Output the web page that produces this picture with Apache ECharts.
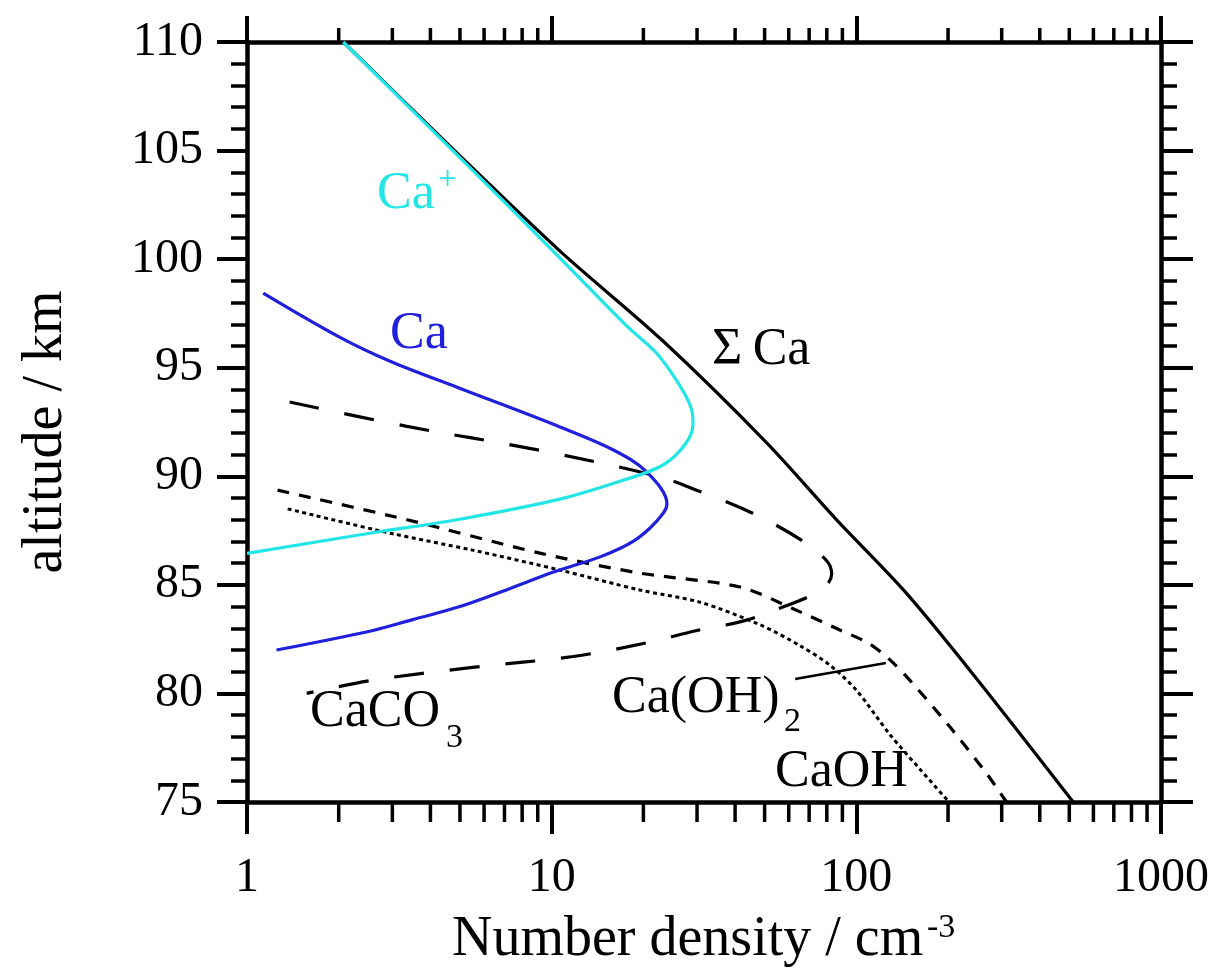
<!DOCTYPE html>
<html>
<head>
<meta charset="utf-8">
<title>Ca species profiles</title>
<script src="https://cdn.jsdelivr.net/npm/echarts@6/dist/echarts.min.js"></script>
<style>
    html, body { margin: 0; padding: 0; background: #fff; }
    #main { width: 1218px; height: 971px; }
</style>
</head>
<body>
<div id="main"></div>
<script>
// [number density (cm-3), altitude (km)]
var sumCa = [[2.07, 110], [4.8, 105], [10.65, 100.37], [23.2, 96.23], [50.9, 91.53], [85.7, 88.03], [144, 84.71], [243, 80.84], [515, 75]];
var caIon = [[2.07, 110], [4.74, 105], [10.65, 100.05], [17.7, 96.9], [22, 95.7], [26, 94.3], [28.6, 93.2], [29.1, 92.4], [27.5, 91.5], [23.2, 90.52], [17, 89.8], [10.65, 88.95], [4.89, 88.0], [2.59, 87.4], [1.0, 86.45]];
var caAtom = [[1.13, 98.44], [2.02, 96.4], [2.95, 95.3], [4.89, 94.1], [10.65, 92.27], [16, 91.2], [20.5, 90.2], [23.9, 88.72], [22, 87.9], [18.5, 87.0], [14.5, 86.3], [10.2, 85.6], [7.2, 84.8], [5.0, 84.0], [3.5, 83.4], [2.59, 82.9], [1.25, 82.0]];
var caco3 = [[1.38, 93.42], [3.35, 92.3], [9.1, 91.2], [22.2, 90.0], [30.7, 89.3], [45.7, 88.3], [66, 87.06], [80, 86.1], [83, 85.5], [80, 85.0], [72, 84.55], [58, 84.0], [42.4, 83.33], [30, 82.9], [20, 82.3], [11.75, 81.7], [5.5, 81.2], [2.59, 80.61], [1.57, 80.0]];
var caoh2 = [[1.26, 89.36], [3.35, 88.0], [9.16, 86.46], [19.5, 85.54], [41.5, 84.9], [62, 83.9], [88.3, 82.92], [110, 82.3], [130, 81.5], [150, 80.6], [203, 78.45], [268, 76.3], [311, 75.0]];
var caoh = [[1.36, 88.5], [2.95, 87.38], [5.5, 86.6], [10.65, 85.68], [19.5, 84.76], [30.7, 84.2], [48.3, 83.16], [65.3, 82.2], [81.9, 81.3], [100, 80.15], [129, 78.1], [162, 76.5], [200, 75.05]];
var caoh2Pointer = [[63, 80.66], [125, 81.4]];

var xMinorTicks = [2, 3, 4, 5, 6, 7, 8, 9, 20, 30, 40, 50, 60, 70, 80, 90, 200, 300, 400, 500, 600, 700, 800, 900];
var yMin = 75, yMax = 110;

var FONT = '"Liberation Serif", "Times New Roman", serif';

function curve(name, data, color, type, width, smooth) {
    return {
        name: name,
        type: 'line',
        xAxisIndex: 0,
        yAxisIndex: 0,
        data: data,
        showSymbol: false,
        symbol: 'none',
        smooth: smooth,
        silent: true,
        animation: false,
        lineStyle: { color: color, width: width, type: type, cap: 'butt' }
    };
}

// minor ticks of the log axis, placed through the axis scale
function minorTicks(atY, len) {
    return {
        type: 'custom',
        xAxisIndex: 0,
        yAxisIndex: 0,
        silent: true,
        clip: false,
        animation: false,
        data: xMinorTicks.map(function(v) { return [v, atY]; }),
        renderItem: function(params, api) {
            var p = api.coord([api.value(0), api.value(1)]);
            return {
                type: 'line',
                shape: { x1: p[0], y1: p[1], x2: p[0], y2: p[1] + len },
                style: { stroke: '#000', lineWidth: 3.5 }
            };
        }
    };
}

function txt(text, x, y, size, color, extra) {
    var el = {
        type: 'text',
        x: x,
        y: y,
        silent: true,
        style: {
            text: text,
            font: size + 'px ' + FONT,
            fill: color,
            align: 'left',
            verticalAlign: 'middle'
        }
    };
    if (extra) {
        for (var k in extra) el[k] = extra[k];
    }
    return el;
}

var dom = document.getElementById('main');
var myChart = echarts.init(dom, null, { renderer: 'canvas' });

var logAxisBase = {
    type: 'log',
    logBase: 10,
    min: 1,
    max: 1000,
    splitLine: { show: false },
    axisLine: { show: true, lineStyle: { color: '#000', width: 4.5 } }
};

var option = {
    backgroundColor: '#fff',
    animation: false,
    grid: { left: 247, right: 57, top: 42, bottom: 169, containLabel: false },
    xAxis: [
        echarts.util.merge({
            position: 'bottom',
            axisTick: { show: true, inside: false, length: 32, lineStyle: { color: '#000', width: 4 } },
            axisLabel: {
                show: true,
                margin: 52,
                color: '#000',
                fontSize: 48,
                fontFamily: FONT,
                formatter: function(v) { return String(Math.round(v)); }
            }
        }, logAxisBase, true),
        echarts.util.merge({
            position: 'top',
            axisTick: { show: true, inside: false, length: 26, lineStyle: { color: '#000', width: 4 } },
            axisLabel: { show: false }
        }, logAxisBase, true)
    ],
    yAxis: [{
        type: 'value',
        position: 'left',
        min: yMin,
        max: yMax,
        interval: 5,
        splitLine: { show: false },
        axisLine: { show: true, lineStyle: { color: '#000', width: 4.5 } },
        axisTick: { show: true, inside: false, length: 30, lineStyle: { color: '#000', width: 4 } },
        minorTick: { show: true, splitNumber: 5, length: 16, lineStyle: { color: '#000', width: 3.5 } },
        axisLabel: { color: '#000', fontSize: 48, fontFamily: FONT, margin: 44 }
    }, {
        type: 'value',
        position: 'right',
        min: yMin,
        max: yMax,
        interval: 5,
        splitLine: { show: false },
        axisLine: { show: true, lineStyle: { color: '#000', width: 4.5 } },
        axisTick: { show: true, inside: false, length: 32, lineStyle: { color: '#000', width: 4 } },
        minorTick: { show: true, splitNumber: 5, length: 16, lineStyle: { color: '#000', width: 3.5 } },
        axisLabel: { show: false }
    }],
    series: [
        curve('CaCO3', caco3, '#000', [30, 26], 3.2, 0.35),
        curve('Ca(OH)2', caoh2, '#000', [12, 10], 3.2, 0.3),
        curve('CaOH', caoh, '#000', [4, 3.5], 3, 0.3),
        curve('pointer', caoh2Pointer, '#000', 'solid', 2.5, false),
        curve('Ca', caAtom, '#2020dc', 'solid', 3.2, 0.35),
        curve('\u03A3Ca', sumCa, '#000', 'solid', 3.2, 0.3),
        curve('Ca+', caIon, '#22e5e5', 'solid', 3.2, 0.35),
        minorTicks(yMin, 20),
        minorTicks(yMax, -14)
    ],
    graphic: [
        txt('Ca', 377, 194, 52, '#22e5e5'),
        txt('+', 438, 180, 34, '#22e5e5'),
        txt('Ca', 390, 334, 52, '#2020dc'),
        txt('\u03A3\u2009Ca', 712, 350, 52, '#000'),
        txt('CaCO', 310, 712, 52, '#000'),
        txt('3', 446, 738, 34, '#000'),
        txt('Ca(OH)', 612, 698, 52, '#000'),
        txt('2', 784, 722, 34, '#000'),
        txt('CaOH', 775, 772, 52, '#000'),
        txt('Number density / cm', 452, 940, 56, '#000'),
        txt('-3', 927, 928, 34, '#000'),
        txt('altitude / km', 46, 432, 56, '#000', { rotation: Math.PI / 2 })
    ]
};

// center the rotated axis title
option.graphic[option.graphic.length - 1].style.align = 'center';

if (option && typeof option === 'object') {
    myChart.setOption(option, true);
}
window.onresize = function() {
    myChart.resize();
};
</script>
</body>
</html>
